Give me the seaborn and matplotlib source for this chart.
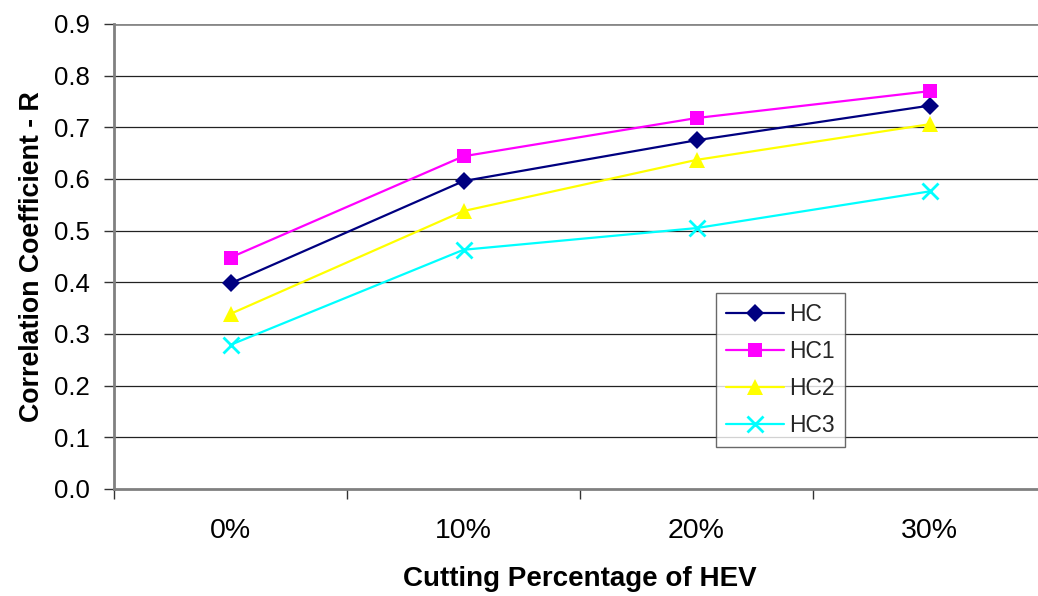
import matplotlib
matplotlib.use("Agg")
import matplotlib.pyplot as plt
import seaborn as sns
import pandas as pd
from matplotlib.ticker import FixedLocator

categories = ["0%", "10%", "20%", "30%"]
hc = [0.398, 0.596, 0.675, 0.742]
hc1 = [0.448, 0.644, 0.718, 0.770]
hc2 = [0.339, 0.538, 0.637, 0.706]
hc3 = [0.279, 0.463, 0.505, 0.576]
series_names = ["HC", "HC1", "HC2", "HC3"]
y_ticks = [0.0, 0.1, 0.2, 0.3, 0.4, 0.5, 0.6, 0.7, 0.8, 0.9]

sns.set_theme(style="white")
plt.rcParams["font.family"] = ["Liberation Sans", "DejaVu Sans"]

fig = plt.figure(figsize=(10.38, 5.96), dpi=100)
ax = fig.add_axes([114/1038, 1-489/596, 932/1038, 465/596])

styles = {
    "HC": dict(color="#000080", marker="D", markersize=9.5),
    "HC1": dict(color="#FF00FF", marker="s", markersize=10.5),
    "HC2": dict(color="#FFFF00", marker="^", markersize=12),
    "HC3": dict(color="#00FFFF", marker="x", markersize=11, markeredgewidth=2),
}
values = {"HC": hc, "HC1": hc1, "HC2": hc2, "HC3": hc3}

for name in series_names:
    df = pd.DataFrame({"x": categories, "y": values[name]})
    st = styles[name]
    sns.lineplot(data=df, x="x", y="y", ax=ax, color=st["color"], marker=st["marker"],
                 markersize=st["markersize"], markeredgewidth=st.get("markeredgewidth", 0),
                 markeredgecolor=st["color"], linewidth=1.6, label=name, sort=False)

ax.set_xlim(-0.5, 3.5)
ax.set_ylim(0, 0.9)
ax.set_yticks(y_ticks)
ax.set_yticklabels([f"{v:.1f}" for v in y_ticks])
ax.set_xticks(range(len(categories)))
ax.set_xticklabels(categories)
ax.xaxis.set_minor_locator(FixedLocator([-0.5, 0.5, 1.5, 2.5, 3.5]))

for v in y_ticks[1:-1]:
    ax.axhline(v, color="#222222", linewidth=0.9, zorder=0)
ax.axhline(0.9, color="#888888", linewidth=2, zorder=0)

for s in ["top", "right"]:
    ax.spines[s].set_visible(False)
for s in ["left", "bottom"]:
    ax.spines[s].set_color("#808080")
    ax.spines[s].set_linewidth(2)

ax.tick_params(axis="y", which="major", direction="out", length=7, width=1, color="#333333",
               left=True, labelsize=18.5, pad=10.5, labelcolor="black")
ax.tick_params(axis="x", which="major", length=0, labelsize=20.5, pad=21, labelcolor="black")
ax.tick_params(axis="x", which="minor", direction="out", length=7, width=1, color="#333333", bottom=True)

ax.set_xlabel("Cutting Percentage of HEV", fontsize=20, fontweight="bold", labelpad=16, color="black")
ax.set_ylabel("Correlation Coefficient - R", fontsize=19.3, fontweight="bold", labelpad=6.5, color="black")

leg = ax.legend(loc="upper left", bbox_to_anchor=(716/1038, 1-293/596), bbox_transform=fig.transFigure,
                frameon=True, fancybox=False, fontsize=16.5, handlelength=2.5, handletextpad=0.25,
                borderpad=0.45, labelspacing=0.6, borderaxespad=0)
leg.get_frame().set_edgecolor("#444444")
leg.get_frame().set_linewidth(1)

fig.savefig("out.png", dpi=100)
